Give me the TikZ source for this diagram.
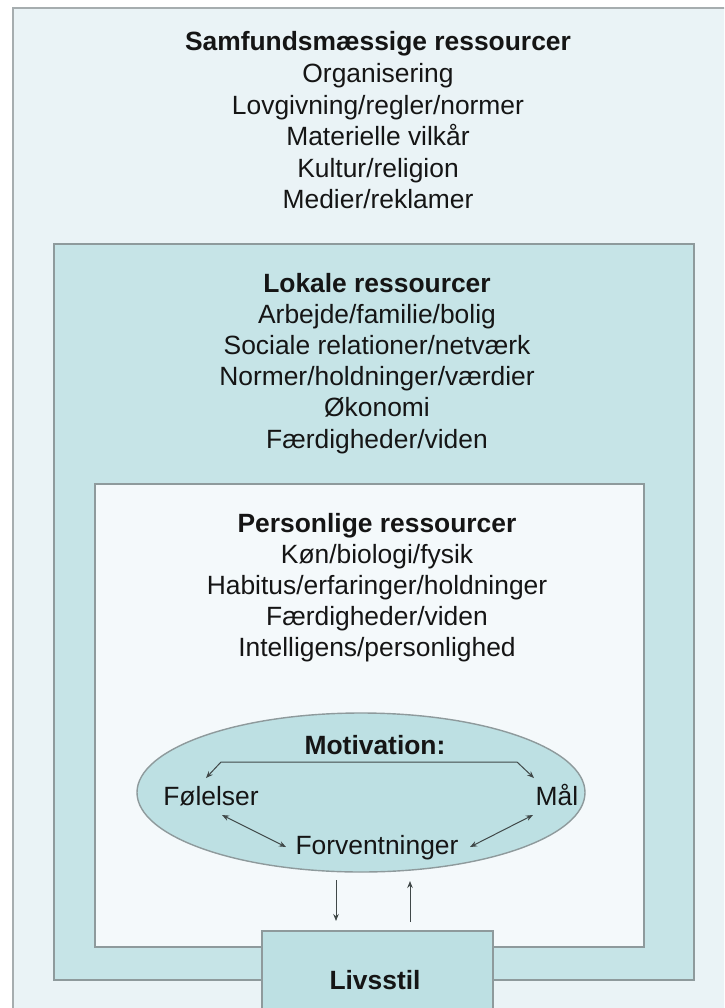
\documentclass[tikz,border=0pt]{standalone}
\usepackage{fontspec}
\setmainfont{Liberation Sans}
\usetikzlibrary{shapes.geometric,arrows.meta}
\definecolor{outerfill}{HTML}{EAF3F6}
\definecolor{lokalfill}{HTML}{C6E4E7}
\definecolor{persfill}{HTML}{F4F9FB}
\definecolor{motfill}{HTML}{BDE0E3}
\definecolor{boxgray}{HTML}{8E9A9C}
\definecolor{outergray}{HTML}{A6ADAF}
\definecolor{arrowgray}{HTML}{404848}
\definecolor{txtcol}{HTML}{151515}
\tikzset{
  txt/.style={anchor=base, inner sep=0pt, text=txtcol, font=\fontsize{26.4}{31.6}\selectfont},
  ttl/.style={anchor=base, inner sep=0pt, text=txtcol, font=\bfseries\fontsize{26.4}{31.6}\selectfont},
  boxnode/.style={rectangle, draw=boxgray, line width=1.6pt, anchor=north west, inner sep=0pt},
  arr/.style={-{Stealth[length=7pt,width=5.5pt]}, line width=1pt, draw=arrowgray},
  darr/.style={{Stealth[length=7pt,width=5.5pt]}-{Stealth[length=7pt,width=5.5pt]}, line width=1pt, draw=arrowgray},
}
\begin{document}
\begin{tikzpicture}[x=1pt,y=-1pt]
\clip (0,0) rectangle (724,1008);
\fill[white] (0,0) rectangle (724,1008);
% boxes
\node[boxnode, draw=outergray, line width=2pt, fill=outerfill, minimum width=730pt, minimum height=1020pt] (outer) at (12,7) {};
\node[boxnode, fill=lokalfill, minimum width=640pt, minimum height=736pt] (lokal) at (53,243) {};
\node[boxnode, fill=persfill, minimum width=549pt, minimum height=463pt] (pers) at (94,483) {};
\node[ellipse, draw=boxgray, line width=1.4pt, fill=motfill, minimum width=448pt, minimum height=159pt, inner sep=0pt] (mot) at (361,792.5) {};
\node[boxnode, fill=motfill, minimum width=231pt, minimum height=95pt] (liv) at (261,930) {};

% texts: samfund
\node[ttl] (s0) at (378,51) {Samfundsmæssige ressourcer};
\node[txt] (s1) at (378,82.6) {Organisering};
\node[txt] (s2) at (378,114.2) {Lovgivning/regler/normer};
\node[txt] (s3) at (378,145.8) {Materielle vilkår};
\node[txt] (s4) at (378,177.4) {Kultur/religion};
\node[txt] (s5) at (378,209) {Medier/reklamer};
% lokale
\node[ttl] (l0) at (377,292) {Lokale ressourcer};
\node[txt] (l1) at (377,323.2) {Arbejde/familie/bolig};
\node[txt] (l2) at (377,354.4) {Sociale relationer/netværk};
\node[txt] (l3) at (377,385.6) {Normer/holdninger/værdier};
\node[txt] (l4) at (377,416.8) {Økonomi};
\node[txt] (l5) at (377,448) {Færdigheder/viden};
% personlige
\node[ttl] (p0) at (377,532) {Personlige ressourcer};
\node[txt] (p1) at (377,563.2) {Køn/biologi/fysik};
\node[txt] (p2) at (377,594.4) {Habitus/erfaringer/holdninger};
\node[txt] (p3) at (377,625.6) {Færdigheder/viden};
\node[txt] (p4) at (377,656.8) {Intelligens/personlighed};
% motivation
\node[ttl] (m0) at (375,754) {Motivation:};
\node[txt] (fol) at (211,805) {Følelser};
\node[txt] (maal) at (557,805) {Mål};
\node[txt] (forv) at (377,854) {Forventninger};
\node[ttl] (livt) at (375,989) {Livsstil};

% motivation connectors
\coordinate (fl) at (206,778);
\coordinate (bl) at (221,762);
\coordinate (br) at (517,762);
\coordinate (fr) at (534,778);
\draw[darr, line join=round] (fl) -- (bl) -- (br) -- (fr);
\coordinate (a1) at (222,815);
\coordinate (a2) at (286,847);
\draw[darr] (a1) -- (a2);
\coordinate (b1) at (470,847);
\coordinate (b2) at (533,815);
\draw[darr] (b1) -- (b2);
% vertical arrows between ellipse and livsstil
\coordinate (d1) at (336,880);
\coordinate (d2) at (336,921);
\draw[arr] (d1) -- (d2);
\coordinate (u1) at (410,922);
\coordinate (u2) at (410,881);
\draw[arr] (u1) -- (u2);
\end{tikzpicture}
\end{document}
